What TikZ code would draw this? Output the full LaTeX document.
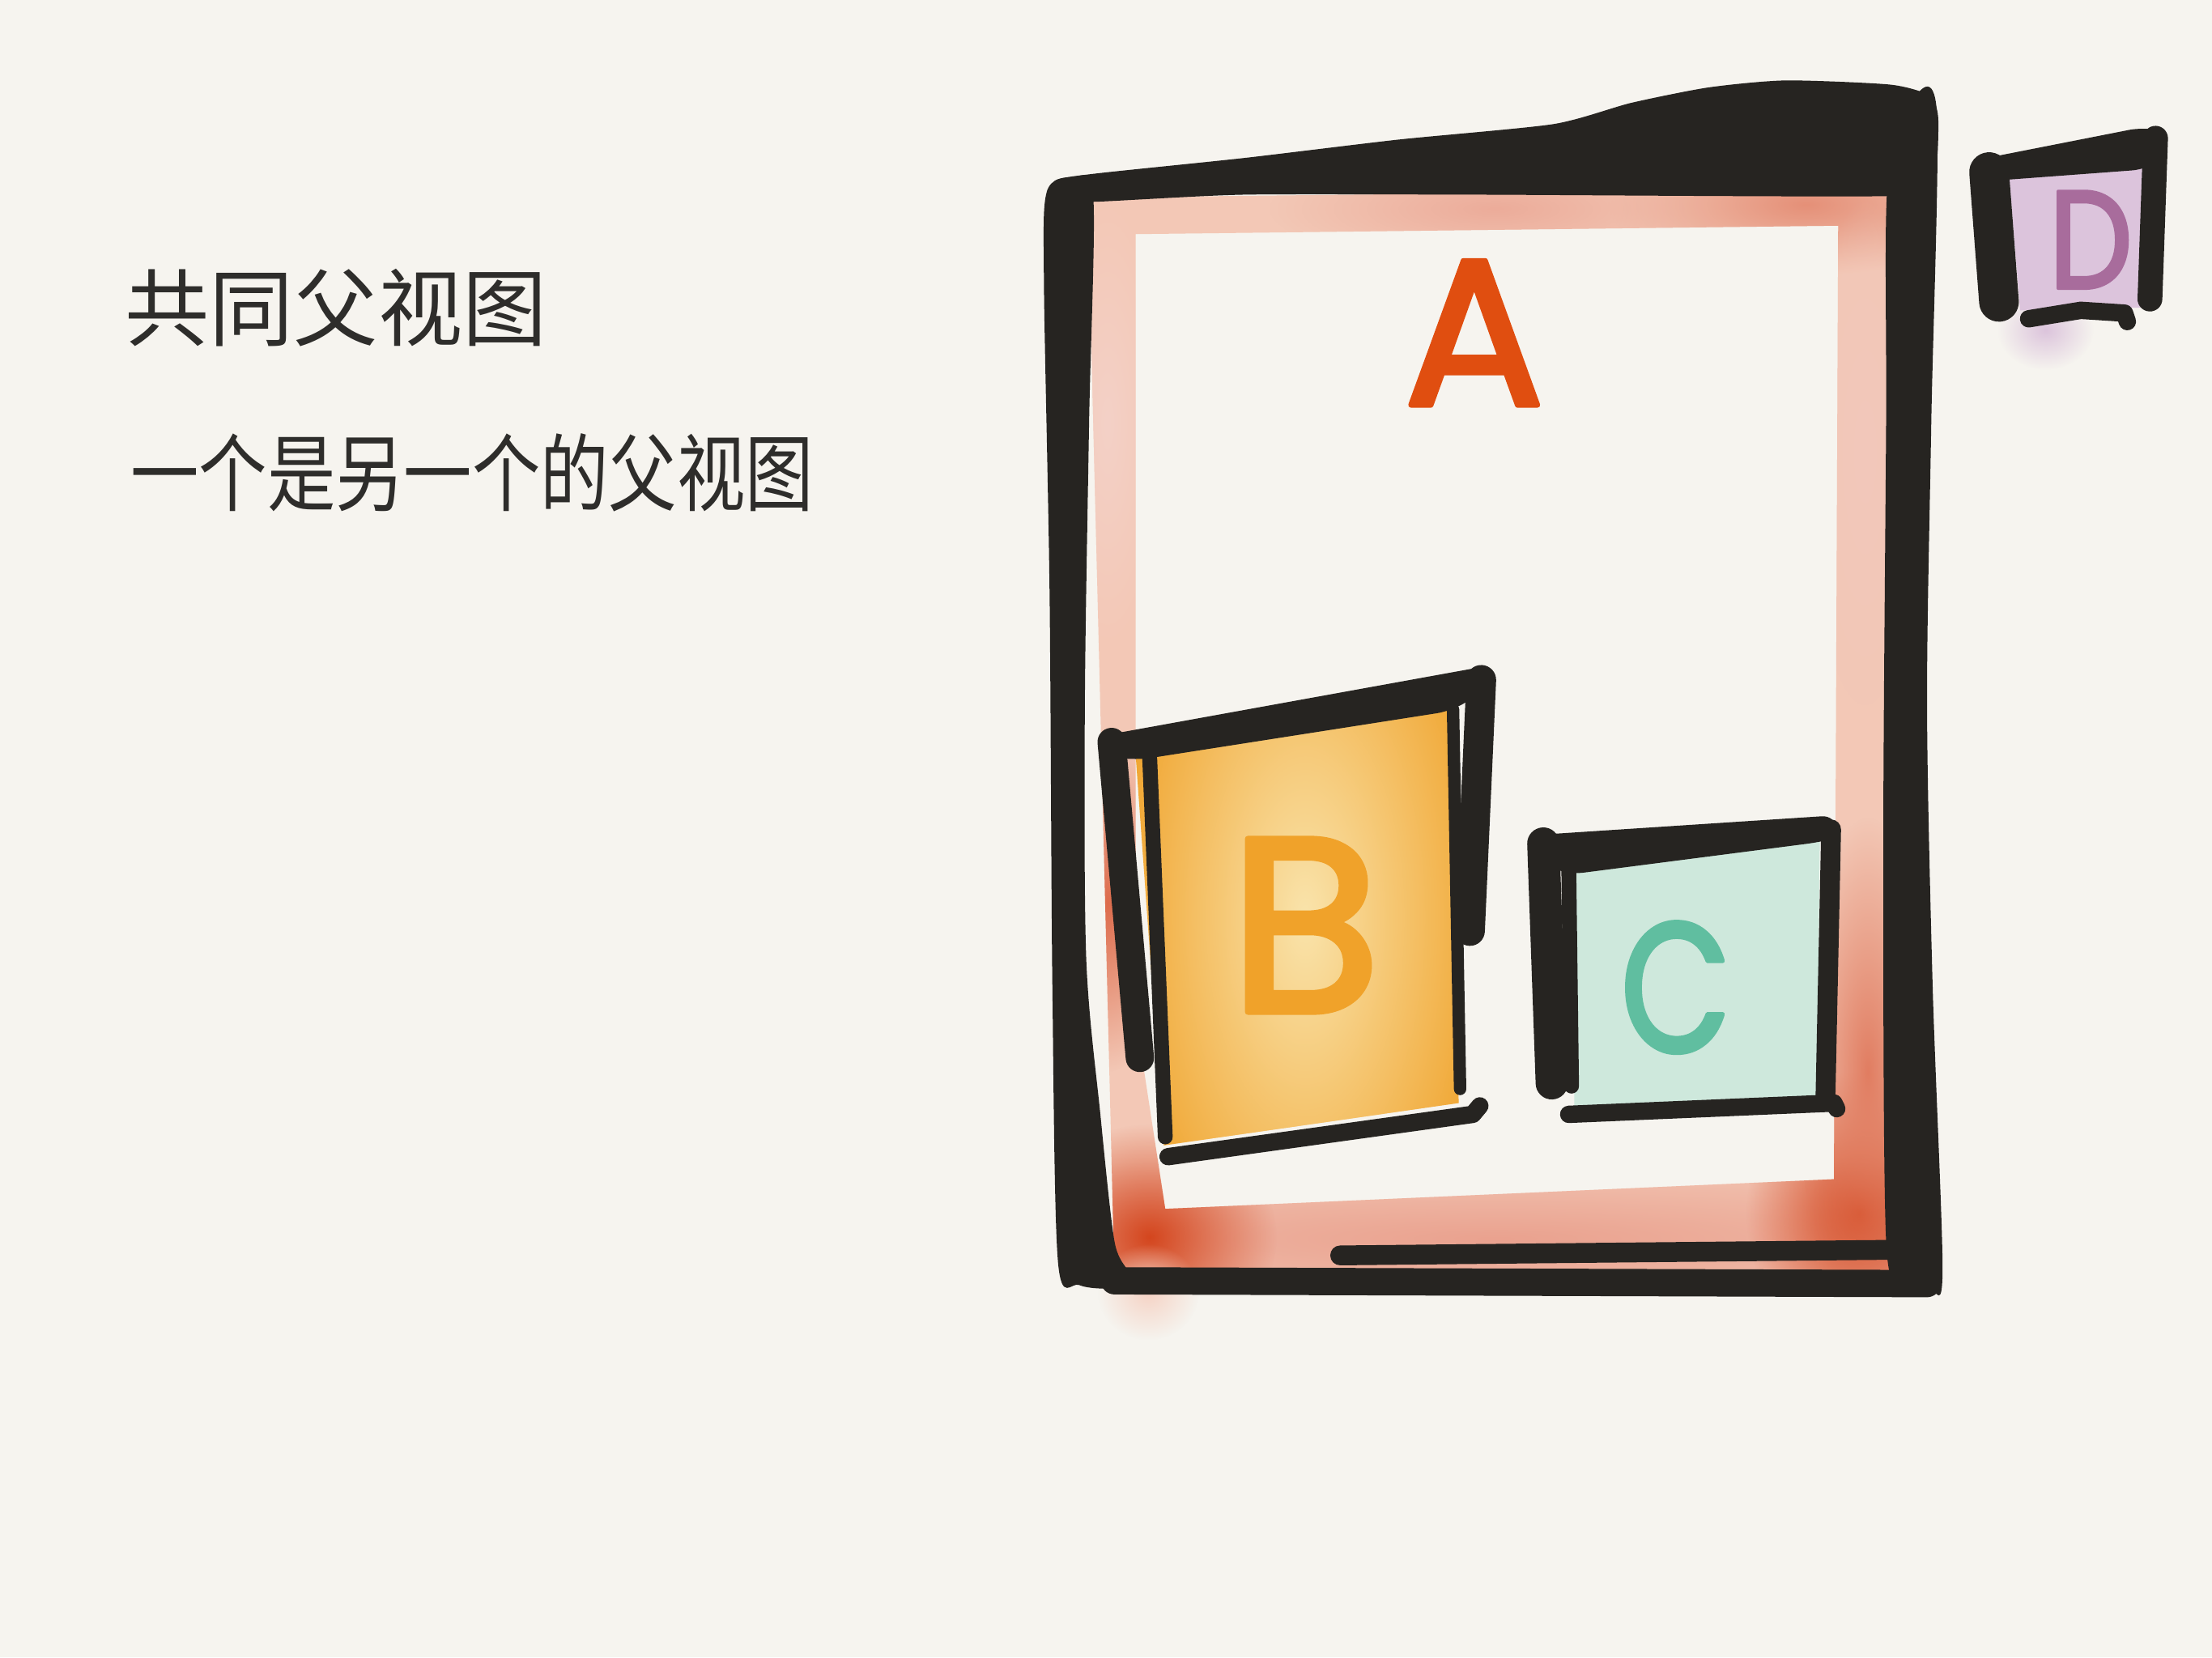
\documentclass[tikz,border=0pt]{standalone}
\usepackage{fontspec}
\newfontfamily\cjk{Noto Sans CJK SC}
\newfontfamily\handfont{Poppins}[FakeBold=2.5]
\usepackage{tikz}
\usetikzlibrary{fadings}
\definecolor{paper}{RGB}{246,244,239}
\definecolor{ink}{RGB}{38,36,33}
\definecolor{pencil}{RGB}{46,45,43}
\definecolor{salmon}{RGB}{243,200,182}
\definecolor{rust}{RGB}{212,70,30}
\definecolor{vermil}{RGB}{224,78,16}
\definecolor{amberB}{RGB}{240,162,42}
\definecolor{amberlight}{RGB}{250,228,172}
\definecolor{mint}{RGB}{206,232,220}
\definecolor{seagreen}{RGB}{96,190,160}
\definecolor{lilac}{RGB}{220,196,220}
\definecolor{plum}{RGB}{168,108,156}
\tikzfading[name=wash, inner color=transparent!0, outer color=transparent!100]

\begin{document}
\begin{tikzpicture}[x=0.01cm, y=-0.01cm, line cap=round, line join=round,
    inkline/.style={draw=ink, line width=#1pt},
    letter/.style={font=\handfont\fontsize{#1}{#1}\selectfont, inner sep=0pt}]
  % Paper
  \fill[paper] (0,0) rectangle (1568,1175);
  \useasboundingbox (0,0) rectangle (1568,1175);

  % Notes on the left
  \node[anchor=west, pencil, inner sep=0pt, font=\cjk\fontsize{17}{20}\selectfont] (shared) at (88,218) {共同父视图};
  \node[anchor=west, pencil, inner sep=0pt, xscale=0.81, font=\cjk\fontsize{17}{20}\selectfont] (nested) at (92,335) {一个是另一个的父视图};

  % Watercolour band of A
  \fill[salmon, even odd rule] (771,140) -- (1345,134) -- (1342,903) -- (790,906) -- cycle
    (805,166) -- (1303,160) -- (1300,836) -- (826,857) -- (805,720) -- cycle;
  \begin{scope}[even odd rule]
    \clip (771,140) -- (1345,134) -- (1342,903) -- (790,906) -- cycle
      (805,166) -- (1303,160) -- (1300,836) -- (826,857) -- (805,720) -- cycle;
    \fill[rust!50, path fading=wash] (1060,878) ellipse (560 and 60);
    \fill[rust, path fading=wash] (815,877) ellipse (90 and 80);
    \fill[rust, path fading=wash] (1318,860) ellipse (80 and 100);
    \fill[rust!70, path fading=wash] (1324,760) ellipse (50 and 180);
    \fill[rust!80, path fading=wash] (785,640) ellipse (45 and 120);
    \fill[rust!60, path fading=wash] (1280,145) ellipse (140 and 50);
    \fill[rust!45, path fading=wash] (1060,148) ellipse (160 and 40);
    \fill[rust!30, path fading=wash] (1322,320) ellipse (40 and 180);
    \fill[rust!25, path fading=wash] (785,300) ellipse (40 and 160);
  \end{scope}
  \fill[salmon!80, path fading=wash] (814,916) ellipse (36 and 34);

  % Frame A
  \fill[ink] plot[smooth cycle, tension=0.4] coordinates {(748,128) (777,123) (882,112) (991,99)
    (1101,88) (1156,73) (1211,62) (1266,57) (1340,60) (1368,68) (1374,85) (1370,130) (1340,139)
    (1046,138) (882,138) (777,143) (748,142)};
  \fill[ink] plot[smooth cycle, tension=0.5] coordinates {(742,136) (760,126) (775,140) (772,300)
    (769,500) (770,680) (780,790) (790,880) (800,903) (790,913) (765,911) (750,895) (746,700)
    (744,420) (740,200)};
  \fill[ink] plot[smooth cycle, tension=0.5] coordinates {(1338,130) (1355,72) (1373,80) (1369,300)
    (1366,500) (1370,700) (1377,900) (1369,915) (1350,906) (1337,880) (1335,600) (1337,300)};
  \draw[inkline=5.5] (790,908) -- (1366,910);
  \draw[inkline=4] (950,890) -- (1345,886);

  % Box B
  \begin{scope}
    \clip (805,535) -- (1029,500) -- (1034,782) -- (825,812) -- cycle;
    \fill[amberB] (805,535) -- (1029,500) -- (1034,782) -- (825,812) -- cycle;
    \fill[amberlight, path fading=wash] (925,650) ellipse (140 and 300);
  \end{scope}
  \fill[ink, rounded corners=3] (779,522) -- (1055,472) -- (1060,485) -- (1029,504) -- (805,539) -- (785,536) -- cycle;
  \draw[inkline=5.7] (788,526) -- (808,750);
  \draw[inkline=3] (815,538) -- (826,806);
  \draw[inkline=6] (1050,482) -- (1042,660);
  \draw[inkline=2.5] (1030,503) -- (1035,772);
  \draw[inkline=3.5] (828,820) -- (1044,790) -- (1049,784);

  % Box C
  \fill[mint] (1116,616) -- (1290,596) -- (1288,783) -- (1116,785) -- cycle;
  \fill[ink, rounded corners=3] (1088,592) -- (1302,578) -- (1303,594) -- (1290,597) -- (1112,620) -- (1092,612) -- cycle;
  \draw[inkline=6.5] (1094,598) -- (1100,768);
  \draw[inkline=3] (1112,612) -- (1114,770);
  \draw[inkline=4] (1298,588) -- (1294,778);
  \draw[inkline=3.5] (1112,790) -- (1300,782) -- (1302,786);

  % Box D
  \fill[lilac] (1424,124) -- (1522,118) -- (1520,218) -- (1432,220) -- cycle;
  \fill[lilac, path fading=wash] (1450,234) ellipse (34 and 28);
  \fill[ink, rounded corners=3] (1398,114) -- (1520,90) -- (1537,94) -- (1534,112) -- (1522,120) -- (1428,127) -- (1402,129) -- cycle;
  \draw[inkline=8] (1410,122) -- (1417,214);
  \draw[inkline=5] (1528,98) -- (1524,212);
  \draw[inkline=3.5] (1438,226) -- (1475,220) -- (1506,222) -- (1508,228);

  % Letters
  \node[letter=42, vermil] (A) at (1045,236) {A};
  \node[letter=50, amberB] (B) at (925,656) {B};
  \node[letter=37, seagreen, xscale=0.78] (C) at (1188,700) {C};
  \node[letter=28, plum, xscale=0.85] (D) at (1482,170) {D};
\end{tikzpicture}
\end{document}
